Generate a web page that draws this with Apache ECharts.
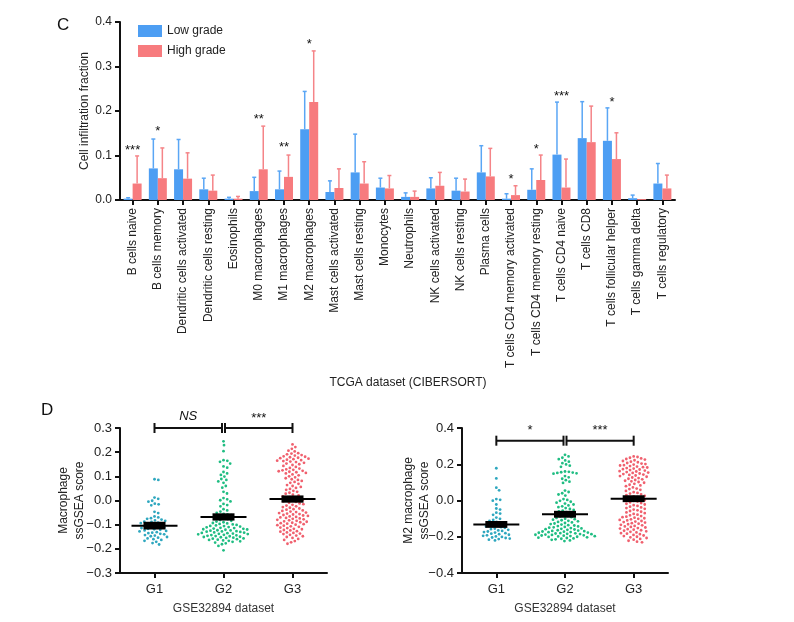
<!DOCTYPE html>
<html><head><meta charset="utf-8">
<script src="https://cdn.jsdelivr.net/npm/echarts@6/dist/echarts.min.js"></script>
<style>html,body{margin:0;padding:0;background:#fff}#c{width:794px;height:622px}</style>
</head><body><div id="c"></div>
<script>
// ---------- Panel C data ----------
const categories = ['B cells naive','B cells memory','Dendritic cells activated','Dendritic cells resting','Eosinophils','M0 macrophages','M1 macrophages','M2 macrophages','Mast cells activated','Mast cells resting','Monocytes','Neutrophils','NK cells activated','NK cells resting','Plasma cells','T cells CD4 memory activated','T cells CD4 memory resting','T cells CD4 naive','T cells CD8','T cells follicular helper','T cells gamma delta','T cells regulatory'];
const lowGrade   = [0.003,0.071,0.069,0.024,0.003,0.020,0.024,0.159,0.018,0.062,0.028,0.007,0.026,0.021,0.062,0.003,0.023,0.102,0.139,0.133,0.004,0.037];
const lowSDTop   = [0.005,0.137,0.136,0.049,0.006,0.051,0.065,0.244,0.043,0.148,0.049,0.016,0.050,0.049,0.122,0.014,0.070,0.220,0.221,0.207,0.011,0.082];
const highGrade  = [0.037,0.049,0.048,0.021,0.003,0.069,0.052,0.220,0.027,0.037,0.026,0.007,0.032,0.019,0.053,0.011,0.045,0.028,0.130,0.092,0.002,0.026];
const highSDTop  = [0.099,0.117,0.106,0.056,0.008,0.166,0.101,0.335,0.070,0.086,0.055,0.020,0.062,0.047,0.116,0.032,0.101,0.092,0.211,0.151,0.002,0.056];
const sigLabels  = ['***','*','','','','**','**','*','','','','','','','','*','*','***','','*','',''];
const sigY       = [0.118,0.160,0,0,0,0.188,0.124,0.356,0,0,0,0,0,0,0,0.053,0.120,0.240,0,0.227,0,0];
const topYTicks  = [0, 0.1, 0.2, 0.3, 0.4];

// ---------- Panel D data ----------
const groups = ['G1','G2','G3'];
const macroG1 = [0.088,0.085,0.012,0.007,-0.001,-0.005,-0.013,-0.016,-0.020,-0.047,-0.052,-0.066,-0.070,-0.073,-0.076,-0.079,-0.082,-0.084,-0.087,-0.089,-0.092,-0.094,-0.097,-0.099,-0.102,-0.105,-0.107,-0.110,-0.112,-0.114,-0.117,-0.119,-0.121,-0.124,-0.126,-0.128,-0.131,-0.133,-0.135,-0.138,-0.140,-0.143,-0.145,-0.148,-0.151,-0.154,-0.157,-0.160,-0.163,-0.167,-0.171,-0.176,-0.182];
const macroG2 = [0.245,0.229,0.204,0.167,0.164,0.160,0.153,0.141,0.136,0.118,0.112,0.106,0.099,0.089,0.085,0.079,0.073,0.060,0.053,0.036,0.029,0.010,0.005,0.001,-0.004,-0.014,-0.019,-0.024,-0.036,-0.041,-0.046,-0.051,-0.055,-0.058,-0.061,-0.065,-0.069,-0.073,-0.077,-0.081,-0.084,-0.087,-0.090,-0.093,-0.095,-0.097,-0.099,-0.101,-0.103,-0.105,-0.106,-0.108,-0.110,-0.111,-0.113,-0.114,-0.116,-0.117,-0.119,-0.120,-0.121,-0.123,-0.124,-0.125,-0.127,-0.128,-0.129,-0.130,-0.132,-0.133,-0.134,-0.135,-0.137,-0.138,-0.139,-0.140,-0.142,-0.143,-0.144,-0.146,-0.147,-0.148,-0.150,-0.151,-0.152,-0.154,-0.155,-0.157,-0.158,-0.160,-0.162,-0.163,-0.165,-0.167,-0.169,-0.171,-0.174,-0.177,-0.181,-0.188,-0.206];
const macroG3 = [0.232,0.221,0.214,0.206,0.203,0.196,0.194,0.191,0.188,0.186,0.183,0.181,0.179,0.177,0.175,0.173,0.171,0.169,0.167,0.165,0.163,0.161,0.159,0.156,0.153,0.150,0.147,0.143,0.139,0.135,0.132,0.129,0.127,0.125,0.123,0.121,0.119,0.117,0.114,0.112,0.108,0.104,0.100,0.096,0.092,0.088,0.085,0.081,0.077,0.073,0.069,0.064,0.060,0.056,0.052,0.048,0.044,0.040,0.036,0.032,0.028,0.024,0.021,0.017,0.014,0.011,0.008,0.005,0.003,0.000,-0.003,-0.006,-0.009,-0.012,-0.015,-0.018,-0.021,-0.024,-0.027,-0.030,-0.033,-0.036,-0.038,-0.041,-0.043,-0.046,-0.048,-0.050,-0.052,-0.054,-0.056,-0.058,-0.060,-0.062,-0.064,-0.066,-0.068,-0.070,-0.072,-0.074,-0.076,-0.078,-0.080,-0.082,-0.084,-0.086,-0.088,-0.090,-0.092,-0.094,-0.096,-0.098,-0.100,-0.102,-0.104,-0.107,-0.109,-0.112,-0.114,-0.117,-0.119,-0.122,-0.124,-0.127,-0.129,-0.132,-0.134,-0.137,-0.139,-0.142,-0.145,-0.148,-0.151,-0.155,-0.159,-0.163,-0.168,-0.173,-0.179];
const macroMean = [-0.104,-0.068,0.006];
const macroSEM  = [0.016,0.015,0.015];
const macroSigText = ['NS','***'];
const macroSigLevel = 0.3;

const m2G1 = [0.178,0.122,0.071,0.056,0.008,0.004,-0.001,-0.022,-0.044,-0.050,-0.067,-0.072,-0.079,-0.094,-0.101,-0.107,-0.113,-0.118,-0.123,-0.127,-0.131,-0.135,-0.139,-0.143,-0.147,-0.151,-0.155,-0.158,-0.162,-0.165,-0.168,-0.171,-0.174,-0.177,-0.180,-0.183,-0.186,-0.189,-0.192,-0.195,-0.198,-0.201,-0.204,-0.207,-0.210,-0.213,-0.216,-0.220];
const m2G2 = [0.252,0.243,0.236,0.228,0.221,0.214,0.206,0.199,0.192,0.186,0.160,0.158,0.156,0.154,0.152,0.150,0.148,0.135,0.128,0.120,0.112,0.104,0.097,0.055,0.047,0.040,0.033,0.027,0.008,0.003,-0.002,-0.007,-0.012,-0.017,-0.022,-0.027,-0.032,-0.037,-0.042,-0.047,-0.052,-0.056,-0.060,-0.064,-0.068,-0.072,-0.076,-0.080,-0.084,-0.088,-0.092,-0.096,-0.100,-0.103,-0.106,-0.109,-0.112,-0.115,-0.118,-0.121,-0.124,-0.127,-0.130,-0.133,-0.136,-0.138,-0.141,-0.143,-0.146,-0.148,-0.150,-0.152,-0.154,-0.156,-0.158,-0.160,-0.162,-0.164,-0.166,-0.168,-0.169,-0.171,-0.172,-0.174,-0.175,-0.177,-0.178,-0.180,-0.181,-0.182,-0.184,-0.185,-0.186,-0.188,-0.189,-0.190,-0.192,-0.193,-0.194,-0.196,-0.197,-0.198,-0.200,-0.201,-0.203,-0.205,-0.207,-0.209,-0.211,-0.214,-0.217,-0.220,-0.224];
const m2G3 = [0.243,0.240,0.236,0.232,0.229,0.226,0.222,0.218,0.214,0.211,0.207,0.204,0.201,0.198,0.195,0.193,0.190,0.187,0.184,0.182,0.179,0.176,0.173,0.171,0.168,0.165,0.162,0.160,0.157,0.154,0.152,0.149,0.146,0.143,0.141,0.138,0.135,0.131,0.127,0.124,0.120,0.117,0.113,0.109,0.106,0.102,0.098,0.092,0.087,0.083,0.079,0.072,0.066,0.063,0.059,0.053,0.046,0.042,0.038,0.034,0.030,0.026,0.022,0.018,0.014,0.010,0.006,0.002,-0.002,-0.006,-0.010,-0.014,-0.018,-0.022,-0.026,-0.030,-0.034,-0.038,-0.042,-0.046,-0.050,-0.054,-0.058,-0.062,-0.066,-0.070,-0.074,-0.078,-0.082,-0.086,-0.089,-0.092,-0.095,-0.098,-0.101,-0.104,-0.107,-0.110,-0.113,-0.116,-0.119,-0.122,-0.125,-0.128,-0.131,-0.134,-0.137,-0.140,-0.143,-0.146,-0.149,-0.152,-0.155,-0.158,-0.161,-0.164,-0.167,-0.170,-0.173,-0.176,-0.180,-0.183,-0.186,-0.190,-0.193,-0.196,-0.200,-0.203,-0.207,-0.212,-0.216,-0.222,-0.227,-0.231];
const m2Mean = [-0.132,-0.076,0.010];
const m2SEM  = [0.019,0.019,0.019];
const m2SigText = ['*','***'];
const m2SigLevel = 0.33;

// ---------- styling ----------
const FONT = 'Liberation Sans, Arial, Helvetica, sans-serif';
const BLUE = '#4d9ef3', RED = '#f77b7e';
const BLUE_E = '#5aa6f5', RED_E = '#f58488';
const swarmColors = ['#2ea7bf', '#1fbd82', '#f0606e'];

function beeswarm(values, pxPerUnit, d) {
  const pts = values.map((v, i) => ({ y: -v * pxPerUnit, i: i, x: 0 }));
  const sorted = pts.slice().sort((a, b) => a.y - b.y);
  const placed = [];
  const out = new Array(values.length);
  for (const p of sorted) {
    const near = placed.filter(q => Math.abs(q.y - p.y) < d);
    const cands = [0];
    for (const q of near) {
      const dx = Math.sqrt(d * d - (q.y - p.y) * (q.y - p.y));
      cands.push(q.x + dx, q.x - dx);
    }
    cands.sort((a, b) => Math.abs(a) - Math.abs(b));
    for (const c of cands) {
      if (near.every(q => (q.x - c) * (q.x - c) + (q.y - p.y) * (q.y - p.y) >= d * d - 1e-6)) { p.x = c; break; }
    }
    placed.push(p);
    out[p.i] = p.x;
  }
  return out;
}

function errorSeries(vals, tops, shift, color) {
  return {
    type: 'custom', xAxisIndex: 0, yAxisIndex: 0, z: 3, silent: true,
    data: vals.map((v, i) => [i, v, tops[i]]),
    encode: { x: 0, y: 1 },
    renderItem: function (params, api) {
      const i = api.value(0), v = api.value(1), e = api.value(2);
      if (!(e > v)) return null;
      const b = api.coord([i, v]), t = api.coord([i, e]);
      const x = b[0] + shift;
      return { type: 'group', children: [
        { type: 'line', shape: { x1: x, y1: b[1], x2: x, y2: t[1] }, style: { stroke: color, lineWidth: 1.5 } },
        { type: 'line', shape: { x1: x - 2, y1: t[1], x2: x + 2, y2: t[1] }, style: { stroke: color, lineWidth: 1.5 } }
      ] };
    }
  };
}

function swarmSeries(xi, yi, lists, pxPerUnit) {
  const data = [];
  lists.forEach((vals, g) => {
    const off = beeswarm(vals, pxPerUnit, 3.9);
    vals.forEach((v, k) => data.push([g, v, off[k]]));
  });
  return {
    type: 'custom', xAxisIndex: xi, yAxisIndex: yi, z: 2, silent: true, data: data,
    encode: { x: 0, y: 1 },
    renderItem: function (params, api) {
      const c = api.coord([api.value(0), api.value(1)]);
      return { type: 'circle', shape: { cx: c[0] + api.value(2), cy: c[1], r: 1.4 }, style: { fill: swarmColors[api.value(0)] } };
    }
  };
}

function meanSeries(xi, yi, means, sems) {
  return {
    type: 'custom', xAxisIndex: xi, yAxisIndex: yi, z: 4, silent: true,
    data: means.map((m, i) => [i, m, sems[i]]),
    encode: { x: 0, y: 1 },
    renderItem: function (params, api) {
      const i = api.value(0), m = api.value(1), s = api.value(2);
      const c = api.coord([i, m]), hi = api.coord([i, m + s]), lo = api.coord([i, m - s]);
      return { type: 'group', children: [
        { type: 'line', shape: { x1: c[0] - 23, y1: c[1], x2: c[0] + 23, y2: c[1] }, style: { stroke: '#000', lineWidth: 2 } },
        { type: 'rect', shape: { x: c[0] - 11, y: hi[1], width: 22, height: lo[1] - hi[1] }, style: { fill: '#000' } }
      ] };
    }
  };
}

function bracketSeries(xi, yi, texts, level) {
  return {
    type: 'custom', xAxisIndex: xi, yAxisIndex: yi, z: 5, silent: true,
    data: [[0, 1, level], [1, 2, level]],
    encode: { x: 0, y: 2 },
    renderItem: function (params, api) {
      const a = api.value(0), b = api.value(1), y = api.value(2);
      const p1 = api.coord([a, y]), p2 = api.coord([b, y]);
      const x1 = p1[0] + (a > 0 ? 1.5 : 0), x2 = p2[0] - (b < 2 ? 1.5 : 0);
      const yy = p1[1];
      const txt = texts[params.dataIndex];
      const st = { stroke: '#111', lineWidth: 2 };
      return { type: 'group', children: [
        { type: 'line', shape: { x1: x1, y1: yy, x2: x2, y2: yy }, style: st },
        { type: 'line', shape: { x1: x1, y1: yy - 5, x2: x1, y2: yy + 5 }, style: st },
        { type: 'line', shape: { x1: x2, y1: yy - 5, x2: x2, y2: yy + 5 }, style: st },
        { type: 'text', x: (x1 + x2) / 2, y: txt === 'NS' ? yy - 12 : yy - 10,
          style: { text: txt, fill: '#111', font: (txt === 'NS' ? 'italic 13px ' : '13px ') + FONT, align: 'center', verticalAlign: 'middle' } }
      ] };
    }
  };
}

const starSeries = {
  type: 'custom', xAxisIndex: 0, yAxisIndex: 0, z: 5, silent: true,
  data: sigY.map((v, i) => [i, v]),
  encode: { x: 0, y: 1 },
  renderItem: function (params, api) {
    const txt = sigLabels[params.dataIndex];
    if (!txt) return null;
    const c = api.coord([api.value(0), api.value(1)]);
    return { type: 'text', x: c[0], y: c[1] + 3, style: { text: txt, fill: '#111', font: '13px ' + FONT, align: 'center', verticalAlign: 'middle' } };
  }
};

const axisLineStyle = { onZero: false, lineStyle: { color: '#111', width: 2 } };
const tickStyle = { show: true, length: 5, lineStyle: { color: '#111', width: 2 } };
const signFmt = v => (v < -1e-9 ? '\u2212' : '') + Math.abs(v).toFixed(1);

const chart = echarts.init(document.getElementById('c'), null, { renderer: 'canvas' });
chart.setOption({
  animation: false,
  textStyle: { fontFamily: FONT },
  grid: [
    { left: 120, top: 22, width: 555, height: 178 },
    { left: 120, top: 428, width: 207, height: 145 },
    { left: 462, top: 428, width: 206, height: 145 }
  ],
  legend: {
    data: ['Low grade', 'High grade'], orient: 'vertical', left: 133, top: 20,
    itemWidth: 24, itemHeight: 12, itemGap: 8, icon: 'rect',
    textStyle: { fontSize: 12, color: '#222', fontFamily: FONT }
  },
  xAxis: [
    { type: 'category', gridIndex: 0, data: categories,
      axisLine: axisLineStyle, axisTick: Object.assign({ alignWithLabel: true }, tickStyle),
      axisLabel: { rotate: 90, interval: 0, fontSize: 12, color: '#222', margin: 8, fontFamily: FONT } },
    { type: 'category', gridIndex: 1, data: groups,
      axisLine: axisLineStyle, axisTick: Object.assign({ alignWithLabel: true }, tickStyle),
      axisLabel: { fontSize: 13, color: '#222', margin: 10, fontFamily: FONT },
      name: 'GSE32894 dataset', nameLocation: 'middle', nameGap: 30, nameTextStyle: { fontSize: 12, color: '#333', fontFamily: FONT } },
    { type: 'category', gridIndex: 2, data: groups,
      axisLine: axisLineStyle, axisTick: Object.assign({ alignWithLabel: true }, tickStyle),
      axisLabel: { fontSize: 13, color: '#222', margin: 10, fontFamily: FONT },
      name: 'GSE32894 dataset', nameLocation: 'middle', nameGap: 30, nameTextStyle: { fontSize: 12, color: '#333', fontFamily: FONT } }
  ],
  yAxis: [
    { type: 'value', gridIndex: 0, min: topYTicks[0], max: topYTicks[topYTicks.length - 1], interval: 0.1,
      axisLine: Object.assign({ show: true }, axisLineStyle), axisTick: tickStyle, splitLine: { show: false },
      axisLabel: { fontSize: 12, color: '#222', formatter: v => v.toFixed(1), fontFamily: FONT },
      name: 'Cell infiltration fraction', nameLocation: 'middle', nameRotate: 90, nameGap: 29, nameMoveOverlap: false,
      nameTextStyle: { fontSize: 12, color: '#222', fontFamily: FONT } },
    { type: 'value', gridIndex: 1, min: -0.3, max: 0.3, interval: 0.1,
      axisLine: Object.assign({ show: true }, axisLineStyle), axisTick: tickStyle, splitLine: { show: false },
      axisLabel: { fontSize: 13, color: '#222', formatter: signFmt, fontFamily: FONT },
      name: 'Macrophage\nssGSEA score', nameLocation: 'middle', nameRotate: 90, nameGap: 32, nameMoveOverlap: false,
      nameTextStyle: { fontSize: 12, color: '#222', lineHeight: 16, fontFamily: FONT } },
    { type: 'value', gridIndex: 2, min: -0.4, max: 0.4, interval: 0.2,
      axisLine: Object.assign({ show: true }, axisLineStyle), axisTick: tickStyle, splitLine: { show: false },
      axisLabel: { fontSize: 13, color: '#222', formatter: signFmt, fontFamily: FONT },
      name: 'M2 macrophage\nssGSEA score', nameLocation: 'middle', nameRotate: 90, nameGap: 29, nameMoveOverlap: false,
      nameTextStyle: { fontSize: 12, color: '#222', lineHeight: 16, fontFamily: FONT } }
  ],
  graphic: [
    { type: 'text', left: 57, top: 17, style: { text: 'C', font: '17px ' + FONT, fill: '#111' } },
    { type: 'text', left: 41, top: 402, style: { text: 'D', font: '17px ' + FONT, fill: '#111' } },
    { type: 'text', x: 408, y: 383, style: { text: 'TCGA dataset (CIBERSORT)', font: '12px ' + FONT, fill: '#222', align: 'center', verticalAlign: 'middle' } }
  ],
  series: [
    { name: 'Low grade', type: 'bar', xAxisIndex: 0, yAxisIndex: 0, data: lowGrade, barWidth: 9, barGap: '0%', itemStyle: { color: BLUE } },
    { name: 'High grade', type: 'bar', xAxisIndex: 0, yAxisIndex: 0, data: highGrade, barWidth: 9, barGap: '0%', itemStyle: { color: RED } },
    errorSeries(lowGrade, lowSDTop, -4.5, BLUE_E),
    errorSeries(highGrade, highSDTop, 4.5, RED_E),
    starSeries,
    swarmSeries(1, 1, [macroG1, macroG2, macroG3], 145 / 0.6),
    meanSeries(1, 1, macroMean, macroSEM),
    bracketSeries(1, 1, macroSigText, macroSigLevel),
    swarmSeries(2, 2, [m2G1, m2G2, m2G3], 145 / 0.8),
    meanSeries(2, 2, m2Mean, m2SEM),
    bracketSeries(2, 2, m2SigText, m2SigLevel)
  ]
});
</script></body></html>
